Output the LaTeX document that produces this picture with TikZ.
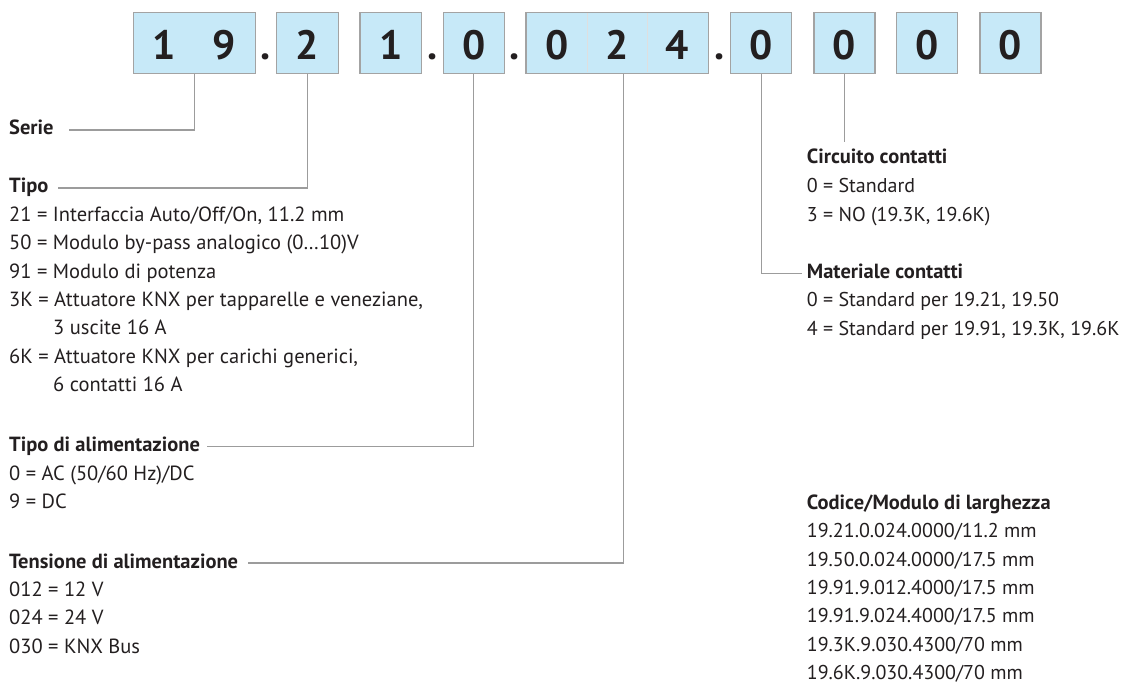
\documentclass[tikz,border=0pt]{standalone}
\usepackage{fontspec}
\setmainfont{PT Sans}
\usetikzlibrary{positioning}
\definecolor{cellblue}{HTML}{C7E9F8}
\definecolor{framegray}{HTML}{A3A3A3}
\definecolor{leadgray}{HTML}{9C9C9C}
\definecolor{ink}{HTML}{231F20}
\tikzset{
  cell/.style={draw=framegray, line width=1.4pt, fill=cellblue, minimum height=60.6pt, inner sep=0pt},
  digit/.style={anchor=base, font=\fontsize{41}{41}\selectfont\bfseries, text=ink, inner sep=0pt},
  leader/.style={draw=leadgray, line width=1.3pt},
  head/.style={anchor=base west, font=\fontsize{20.5}{24}\selectfont\bfseries, text=ink, inner xsep=0pt, inner ysep=0pt, text height=10pt, text depth=0pt},
  entry/.style={anchor=base west, font=\fontsize{20.5}{24}\selectfont, text=ink, inner xsep=0pt},
  rentry/.style={entry, font=\fontsize{20}{24}\selectfont}
}
\begin{document}
\begin{tikzpicture}[x=1pt,y=-1pt]
\useasboundingbox (0,0) rectangle (1125,684);
% code boxes
\foreach \n/\cx/\w in {b1/194.3/122, b2/307.5/61.6, b3/390.8/61.7, b4/473.8/61, b5/617.2/182.3,
  b6/761.2/61, b7/844.5/61, b8/927.2/61, b9/1010.5/61}
  \node[cell, minimum width=\w pt] (\n) at (\cx,43) {};
\draw[framegray!35, line width=0.6pt] (587.7,13.5)--(587.7,72.5) (647.3,13.5)--(647.3,72.5);
\foreach \d/\x [count=\i] in {1/164,9/224.5,2/307.5,1/390.8,0/473.8,0/556.7,2/616.9,4/677.5,
  0/761.2,0/844.5,0/927.2,0/1010.5}
  \node[digit] (d\i) at (\x,60) {\d};
\foreach \x [count=\i] in {265.7,432.3,515,719.3}
  \node[digit] (dot\i) at (\x,60) {.};

% left column
\node[head] (serie) at (9,135) {Serie};
\node[head] (tipo) at (9,193) {Tipo};
\foreach \t [count=\i] in {{21 = Interfaccia Auto/Off/On, 11.2 mm},
  {50 = Modulo by-pass analogico (0\ldots10)V}, {91 = Modulo di potenza},
  {3K = Attuatore KNX per tapparelle e veneziane,}, {\hspace*{44pt}3 uscite 16 A},
  {6K = Attuatore KNX per carichi generici,}, {\hspace*{44pt}6 contatti 16 A}}
  \node[entry] (tipo-\i) at (9,193+28.35*\i) {\t};
\node[head] (alim) at (9,451.7) {Tipo di alimentazione};
\foreach \t [count=\i] in {{0 = AC (50/60 Hz)/DC}, {9 = DC}}
  \node[entry] (alim-\i) at (9,451.7+28.35*\i) {\t};
\node[head] (tens) at (9,568) {Tensione di alimentazione};
\foreach \t [count=\i] in {{012 = 12 V}, {024 = 24 V}, {030 = KNX Bus}}
  \node[entry] (tens-\i) at (9,568+28.35*\i) {\t};

% right column
\node[head] (circ) at (806.7,163.3) {Circuito contatti};
\foreach \t [count=\i] in {{0 = Standard}, {3 = NO (19.3K, 19.6K)}}
  \node[rentry] (circ-\i) at (806.7,163.3+29.2*\i) {\t};
\node[head] (mat) at (806.7,278.3) {Materiale contatti};
\foreach \t [count=\i] in {{0 = Standard per 19.21, 19.50}, {4 = Standard per 19.91, 19.3K, 19.6K}}
  \node[rentry] (mat-\i) at (806.7,278.3+28.4*\i) {\t};
\node[head] (cod) at (806.7,509.3) {Codice/Modulo di larghezza};
\foreach \t [count=\i] in {19.21.0.024.0000/11.2 mm, 19.50.0.024.0000/17.5 mm,
  19.91.9.012.4000/17.5 mm, 19.91.9.024.4000/17.5 mm, 19.3K.9.030.4300/70 mm,
  19.6K.9.030.4300/70 mm}
  \node[rentry] (cod-\i) at (806.7,509.3+28.4*\i) {\t};

% leader lines
\path (b7.south |- circ.north) ++(0,-11) coordinate (circtop);
\draw[leader] (b1.south) |- ([xshift=15pt]serie.east);
\draw[leader] (b2.south) |- ([xshift=9pt]tipo.east);
\draw[leader] (b4.south) |- ([xshift=7pt]alim.east);
\draw[leader] ([xshift=6pt]b5.south) |- ([xshift=10pt]tens.east);
\draw[leader] (b6.south) |- ([xshift=-5pt]mat.west);
\draw[leader] (b7.south) -- (circtop);
\end{tikzpicture}
\end{document}
